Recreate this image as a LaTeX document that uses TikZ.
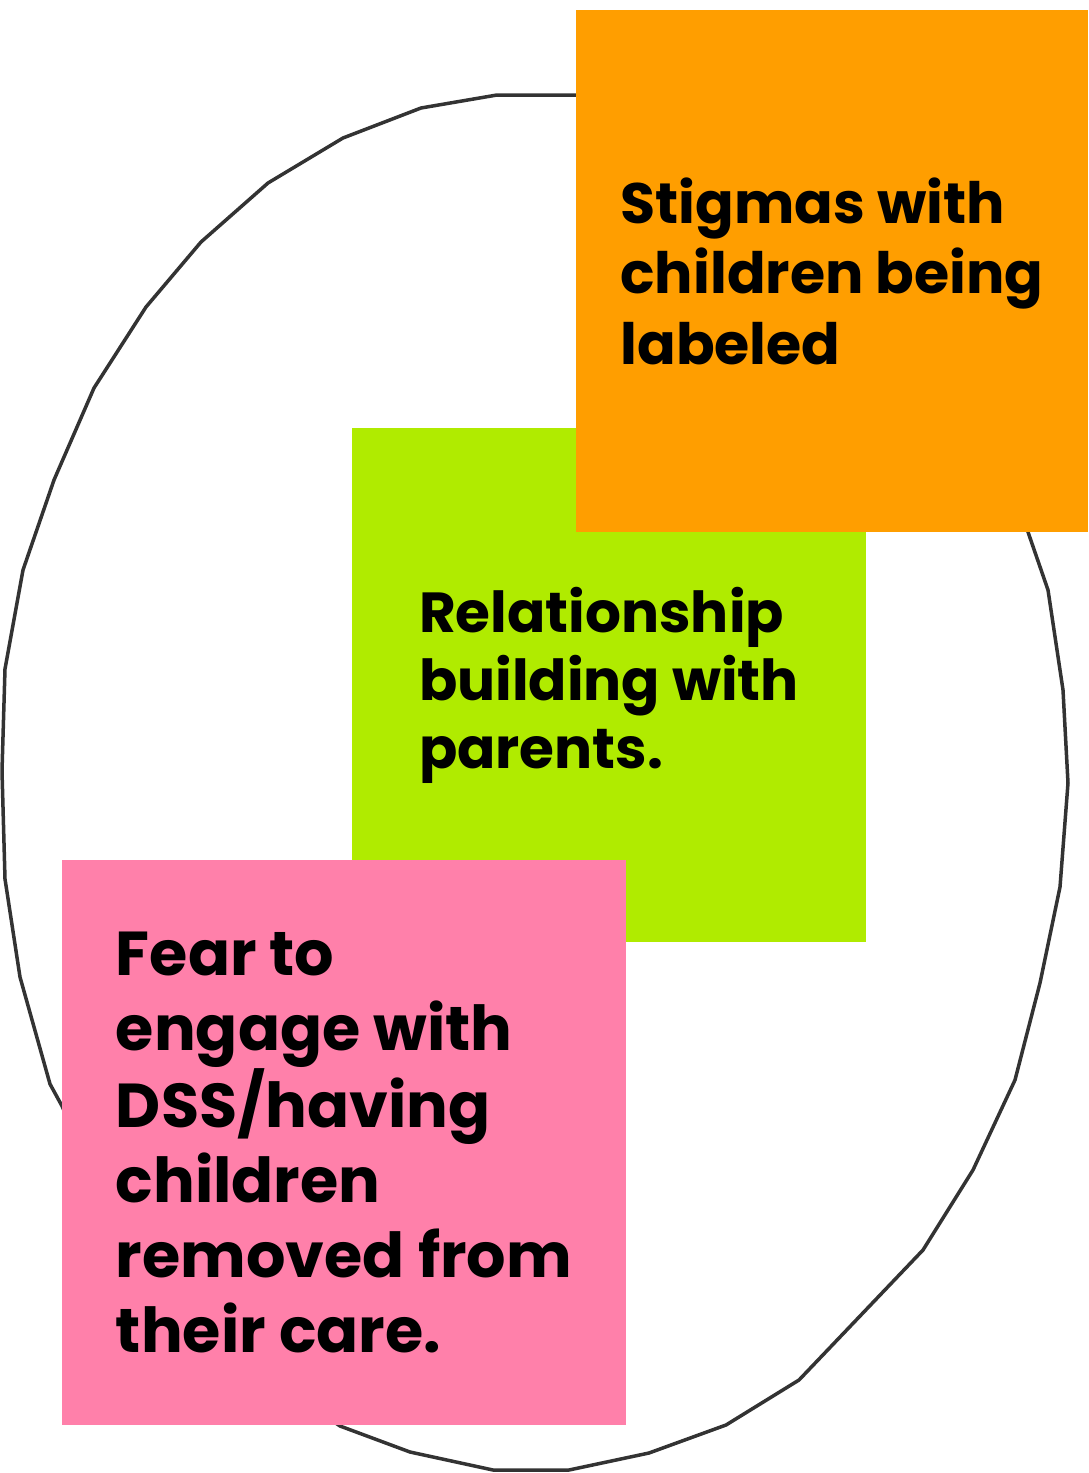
\documentclass[tikz,border=0pt]{standalone}
\usepackage{fontspec}
\setmainfont{Poppins}

\definecolor{stigmaorange}{RGB}{255,158,0}
\definecolor{relationgreen}{RGB}{176,235,0}
\definecolor{fearpink}{RGB}{255,128,170}

\begin{document}
\begin{tikzpicture}[x=1pt,y=-1pt,line cap=round,line join=round,
  outline/.style={line width=3.5pt,draw=black!80},
  note/.style 2 args={inner sep=0pt,align=left,text=black,
    font=\bfseries\fontsize{#1}{#2}\selectfont}]
\useasboundingbox (0,0) rectangle (1088,1473);
\draw[outline] (497,95) -- (576,95) -- (660,100) -- (760,128) -- (860,185)
  -- (945,280) -- (1000,400) -- (1028,532) -- (1048,590) -- (1063,690)
  -- (1068,783) -- (1060,887) -- (1040,983) -- (1015,1080) -- (973,1170)
  -- (923,1250) -- (799,1380) -- (726,1425) -- (649,1453) -- (569,1470)
  -- (493,1470) -- (410,1452) -- (340,1426) -- (260,1370) -- (160,1260)
  -- (90,1170) -- (62,1106) -- (50,1084) -- (20,977) -- (5,879) -- (2,771)
  -- (5,669) -- (23,570) -- (54,480) -- (94,388) -- (146,307) -- (201,242)
  -- (268,183) -- (343,138) -- (421,108) -- cycle;
\node[note={56.5}{68},fill=relationgreen,minimum width=514pt,minimum height=514pt]
  (relation) at (609,685) {Relationship\\building with\\parents.};
\node[note={57}{70.5},fill=stigmaorange,minimum width=512pt,minimum height=522pt]
  (stigma) at (832,271) {Stigmas with\\children being\\labeled};
\node[note={62}{75},fill=fearpink,minimum width=564pt,minimum height=565pt]
  (fear) at (344,1142.5) {Fear to\\engage with\\DSS/having\\children\\removed from\\their care.};
\end{tikzpicture}
\end{document}
